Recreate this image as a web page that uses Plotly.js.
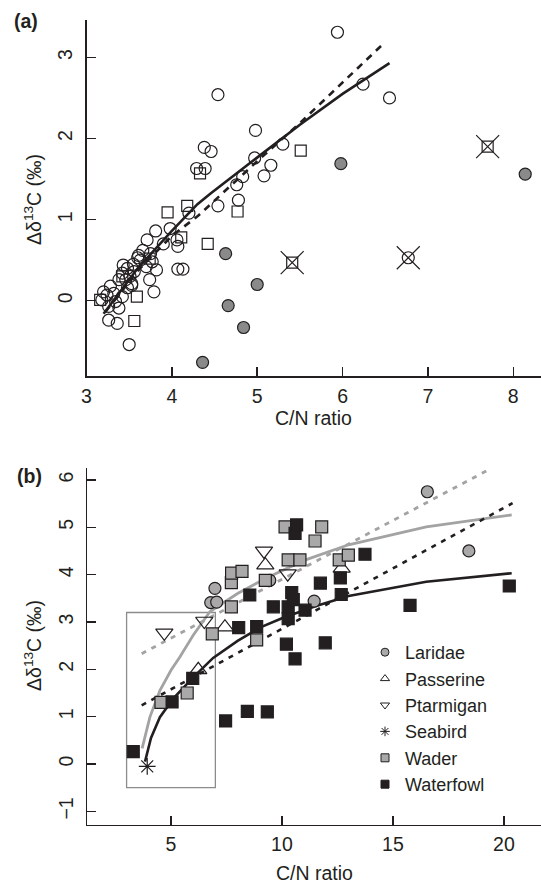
<!DOCTYPE html>
<html><head><meta charset="utf-8">
<script src="https://cdn.plot.ly/plotly-3.0.1.min.js"></script>
<style>html,body{margin:0;padding:0;background:#fff}#chart{width:541px;height:883px}</style>
</head><body><div id="chart"></div>
<script>
// ---------- Panel (a) data ----------
const aOpenCircleX = [5.94,6.24,6.55,4.54,4.98,5.30,4.97,5.16,5.08,4.38,4.46,4.29,4.39,4.76,4.83,4.78,4.54,4.20,
  3.81,3.98,4.06,4.07,3.71,3.90,4.07,4.13,3.61,3.63,3.60,3.75,3.77,3.82,3.74,3.79,3.55,3.66,3.70,3.56,3.43,3.48,3.53,
  3.50,3.20,3.24,3.18,3.28,3.32,3.38,3.42,3.46,3.51,3.53,3.26,3.34,3.38,3.26,3.36,3.42,3.48];
const aOpenCircleY = [3.31,2.67,2.50,2.54,2.10,1.93,1.76,1.67,1.54,1.89,1.84,1.63,1.63,1.43,1.53,1.24,1.17,1.08,
  0.86,0.89,0.75,0.67,0.75,0.70,0.39,0.39,0.56,0.50,0.53,0.58,0.48,0.38,0.26,0.11,0.45,0.62,0.42,0.36,0.44,0.40,0.21,
  -0.54,0.11,0.07,0.01,0.18,0.09,0.26,0.34,0.26,0.30,0.19,-0.07,-0.01,-0.09,-0.24,-0.28,0.05,0.16];
const aOpenSquareX = [5.51,4.33,4.18,4.77,3.95,4.11,4.42,3.74,3.59,3.56,3.42,3.16];
const aOpenSquareY = [1.85,1.57,1.17,1.10,1.09,0.78,0.70,0.52,0.05,-0.25,0.30,0.01];
const aGrayCircleX = [5.98,8.14,5.00,4.63,4.66,4.84,4.36];
const aGrayCircleY = [1.69,1.56,0.20,0.58,-0.06,-0.33,-0.76];
const aCrossSquareX = [5.41,7.70];
const aCrossSquareY = [0.47,1.90];
const aCrossCircleX = [6.77];
const aCrossCircleY = [0.53];
const aSolidX = [3.20,3.60,4.00,4.30,4.45,5.00,5.50,6.00,6.55];
const aSolidY = [-0.16,0.40,0.86,1.19,1.32,1.77,2.17,2.55,2.93];
const aDashX = [3.22,3.60,4.00,4.30,5.00,5.50,6.48];
const aDashY = [-0.14,0.37,0.80,1.04,1.72,2.19,3.17];
const aXTicks = [3,4,5,6,7,8];
const aYTicks = [0,1,2,3];

// ---------- Panel (b) data ----------
const groups = ['Laridae','Passerine','Ptarmigan','Seabird','Wader','Waterfowl'];
const laridaeX = [6.79,6.98,7.06,9.45,11.45,16.55,18.42];
const laridaeY = [3.41,3.71,3.42,3.88,3.44,5.75,4.50];
const passerineX = [6.23,7.43,9.25,12.69];
const passerineY = [1.99,2.89,4.20,4.13];
const ptarmiganX = [4.70,6.50,9.19,10.26];
const ptarmiganY = [2.77,3.02,4.50,4.02];
const seabirdX = [3.93];
const seabirdY = [-0.05];
const waderX = [4.55,5.73,6.86,7.72,7.72,7.73,8.20,8.86,9.25,10.14,10.28,10.81,11.49,11.79,12.58,12.99];
const waderY = [1.30,1.50,2.75,3.32,3.83,4.03,4.07,2.62,3.88,5.01,4.31,4.31,4.71,5.01,4.31,4.41];
const waterfowlX = [3.30,5.05,5.98,7.46,8.05,8.44,8.55,8.86,9.34,9.61,10.20,10.28,10.28,10.44,10.51,10.59,10.59,10.66,11.04,11.73,11.95,12.63,12.67,13.74,15.77,20.24];
const waterfowlY = [0.26,1.31,1.81,0.91,2.88,1.11,3.57,2.90,1.10,3.32,2.53,3.07,3.32,3.62,3.47,2.22,4.87,5.05,3.25,3.82,2.56,3.93,3.58,4.43,3.35,3.76];
const bGraySolidX = [3.70,4.05,4.50,5.00,5.40,6.00,6.76,8.00,9.30,11.00,13.00,16.50,20.35];
const bGraySolidY = [0.33,0.99,1.55,1.98,2.26,2.72,3.22,3.60,3.93,4.30,4.63,5.01,5.26];
const bBlackSolidX = [3.83,4.10,4.50,5.10,6.00,6.90,8.00,9.00,10.00,11.50,13.00,16.50,20.35];
const bBlackSolidY = [0.05,0.55,0.99,1.38,1.83,2.24,2.60,2.88,3.08,3.33,3.55,3.85,4.03];
const bGrayDotX = [3.68,19.37];
const bGrayDotY = [2.33,6.23];
const bBlackDotX = [3.68,20.39];
const bBlackDotY = [1.24,5.51];
const boxX = [3,7];
const boxY = [-0.5,3.2];
const bXTicks = [5,10,15,20];
const bYTicks = [-1,0,1,2,3,4,5,6];

// ---------- styles ----------
const INK = '#231f20';
const FONT = 'Liberation Sans, Arial, Helvetica, sans-serif';
const W = 541, H = 883;

function pts(x, y, xa, ya, sym, size, fill, lw) {
  return {type:'scatter', mode:'markers', x:x, y:y, xaxis:xa, yaxis:ya, showlegend:false,
    marker:{symbol:sym, size:size, color:fill, line:{color:INK, width:lw}}, hoverinfo:'skip'};
}
function line(x, y, xa, ya, color, width, dash) {
  return {type:'scatter', mode:'lines', x:x, y:y, xaxis:xa, yaxis:ya, showlegend:false,
    line:{color:color, width:width, dash:dash||'solid'}, hoverinfo:'skip'};
}

const GRAYA = '#8a8a8a';
const GRAYB = '#a9a9a9';
const GRAYL = '#a3a3a3';

const traces = [
  // panel a
  pts(aOpenCircleX, aOpenCircleY, 'x','y','circle-open',12,INK,1.2),
  pts(aOpenSquareX, aOpenSquareY, 'x','y','square-open',11,INK,1.2),
  pts(aGrayCircleX, aGrayCircleY, 'x','y','circle',12,GRAYA,1.2),
  pts(aCrossSquareX, aCrossSquareY, 'x','y','square-open',11,INK,1.2),
  pts(aCrossCircleX, aCrossCircleY, 'x','y','circle-open',12,INK,1.2),
  pts(aCrossSquareX.concat(aCrossCircleX), aCrossSquareY.concat(aCrossCircleY), 'x','y','x-thin-open',23,INK,1.2),
  line(aSolidX, aSolidY, 'x','y', INK, 2.6),
  line(aDashX, aDashY, 'x','y', INK, 2.6, '7px,6px'),
  // panel b lines
  line(bGraySolidX, bGraySolidY, 'x2','y2', GRAYL, 2.8),
  line(bGrayDotX, bGrayDotY, 'x2','y2', GRAYL, 2.8, '5px,6px'),
  line(bBlackSolidX, bBlackSolidY, 'x2','y2', INK, 2.6),
  line(bBlackDotX, bBlackDotY, 'x2','y2', INK, 2.6, '5px,6px'),
  // panel b points
  pts(ptarmiganX, ptarmiganY, 'x2','y2','triangle-down-open',15,INK,1.2),
  pts(passerineX, passerineY, 'x2','y2','triangle-up-open',15,INK,1.2),
  pts(laridaeX, laridaeY, 'x2','y2','circle',12,GRAYB,1.2),
  pts(waderX, waderY, 'x2','y2','square',12,GRAYB,1.2),
  pts(waterfowlX, waterfowlY, 'x2','y2','square',12,INK,1.2),
  pts(seabirdX, seabirdY, 'x2','y2','asterisk-open',14,INK,1.2),
];
// legend entries (small symbols as in the reference legend)
const legendSyms = [['circle',GRAYB],['triangle-up-open',INK],['triangle-down-open',INK],['asterisk-open',INK],['square',GRAYB],['square',INK]];
groups.forEach((g,i)=>{
  traces.push({type:'scatter', mode:'markers', x:[null], y:[null], xaxis:'x2', yaxis:'y2', name:g, showlegend:true,
    marker:{symbol:legendSyms[i][0], size:8, color:legendSyms[i][1], line:{color:INK, width:1}}});
});

function ax(domain, range, ticks, isY) {
  return {domain:domain, range:range, tickvals:ticks, ticks:'inside', ticklen:9, tickwidth:1.5, tickcolor:INK,
    showline:true, linecolor:INK, linewidth:1.5, showgrid:false, zeroline:false, fixedrange:true, automargin:false,
    ticklabelstandoff: isY ? 5 : 2,
    tickfont:{family:FONT, size:19.5, color:INK}, tickangle: isY ? -90 : 0};
}

function ann(text, px, py, extra) {
  return Object.assign({text:text, xref:'paper', yref:'paper', x:px/W, y:(H-py)/H, xanchor:'center', yanchor:'middle',
    showarrow:false, font:{size:19.5,family:FONT,color:INK}}, extra||{});
}

const layout = {
  width:W, height:H, margin:{l:0,r:0,t:0,b:0}, paper_bgcolor:'#fff', plot_bgcolor:'rgba(0,0,0,0)',
  font:{family:FONT, color:INK},
  xaxis: Object.assign(ax([86.5/W,1],[3,8.325],aXTicks,false),{anchor:'y'}),
  yaxis: Object.assign(ax([(H-376)/H,(H-20)/H],[-0.928,3.461],aYTicks,true),{anchor:'x'}),
  xaxis2: Object.assign(ax([87.3/W,1],[1.23,21.67],bXTicks,false),{anchor:'y2'}),
  yaxis2: Object.assign(ax([(H-824.5)/H,(H-468)/H],[-1.278,6.252],bYTicks,true),{anchor:'x2'}),
  showlegend:true,
  legend:{x:365/W, xanchor:'left', y:(H-634)/H, yanchor:'top', bgcolor:'rgba(0,0,0,0)', borderwidth:0,
    font:{family:FONT, size:18, color:INK}, tracegroupgap:0},
  shapes:[{type:'rect', xref:'x2', yref:'y2', x0:boxX[0], x1:boxX[1], y0:boxY[0], y1:boxY[1],
    line:{color:'#8c8c8c', width:1.3}, fillcolor:'rgba(0,0,0,0)', layer:'below'}],
  annotations:[
    ann('<b>(a)</b>', 26, 21),
    ann('<b>(b)</b>', 29, 476),
    ann('C/N ratio', 313, 418),
    ann('C/N ratio', 314.5, 873),
    ann('Δδ<sup>13</sup>C (‰)', 33, 200, {textangle:-90}),
    ann('Δδ<sup>13</sup>C (‰)', 33, 646, {textangle:-90})
  ]
};

Plotly.newPlot('chart', traces, layout, {staticPlot:true, displayModeBar:false});
</script></body></html>
